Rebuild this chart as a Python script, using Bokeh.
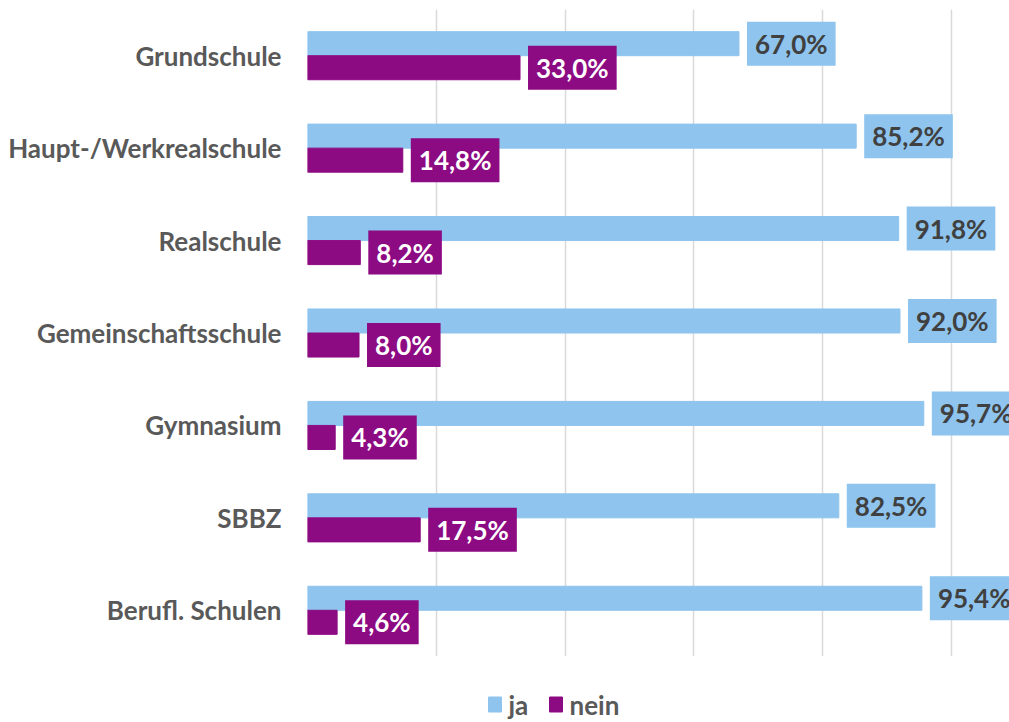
from bokeh.plotting import figure
from bokeh.layouts import column
from bokeh.models import ColumnDataSource, FactorRange, Range1d, FixedTicker, Grid
from bokeh.transform import dodge
from bokeh.core.properties import value
from bokeh.embed import file_html
from bokeh.resources import INLINE

categories = ["Grundschule", "Haupt-/Werkrealschule", "Realschule", "Gemeinschaftsschule",
              "Gymnasium", "SBBZ", "Berufl. Schulen"]
ja = [67.0, 85.2, 91.8, 92.0, 95.7, 82.5, 95.4]
nein = [33.0, 14.8, 8.2, 8.0, 4.3, 17.5, 4.6]
series = ["ja", "nein"]
grid_ticks = [0, 20, 40, 60, 80, 100]

BLUE = "#8EC4ED"
PURPLE = "#8C0A82"
FONT = "Lato"

def fmt(v):
    return f"{v:.1f}".replace(".", ",") + "%"

src = ColumnDataSource(dict(
    cat=categories, v_ja=ja, v_nein=nein,
    ja_lbl=[fmt(v) for v in ja], nein_lbl=[fmt(v) for v in nein],
))

LEFT = 307
FW = 702
p = figure(y_range=FactorRange(*categories[::-1]), x_range=Range1d(0, FW / 6.44),
           frame_width=FW, frame_height=647, min_border_left=LEFT, min_border_right=0,
           min_border_top=9, min_border_bottom=0, x_axis_location=None,
           output_backend="svg", toolbar_location=None)

p.outline_line_color = None
p.ygrid.grid_line_color = None
p.add_layout(Grid(dimension=0, ticker=FixedTicker(ticks=grid_ticks),
                  grid_line_color="#D9D9D9", grid_line_width=1.5))

p.yaxis.axis_line_color = None
p.yaxis.major_tick_line_color = None
p.yaxis.minor_tick_line_color = None
p.yaxis.major_label_text_font = FONT
p.yaxis.major_label_text_font_style = "bold"
p.yaxis.major_label_text_font_size = "26px"
p.yaxis.major_label_text_color = "#595959"
p.yaxis.major_label_standoff = 20

yja = dodge("cat", 0.13, range=p.y_range)
ynein = dodge("cat", -0.13, range=p.y_range)

r1 = p.hbar(y=yja, left=0, right="v_ja", height=0.26, source=src,
            fill_color=BLUE, line_color=BLUE)
r2 = p.hbar(y=ynein, left=0, right="v_nein", height=0.26, source=src,
            fill_color=PURPLE, line_color=PURPLE)

pad = dict(left=8, right=8, top=6, bottom=6)
p.text(x="v_ja", y=yja, text="ja_lbl", source=src, x_offset=8,
       text_align="left", text_baseline="middle", text_font=value(FONT),
       text_font_style="bold", text_font_size="26px", text_color="#404040",
       background_fill_color=BLUE, padding=pad)
p.text(x="v_nein", y=ynein, text="nein_lbl", source=src, x_offset=8,
       text_align="left", text_baseline="middle", text_font=value(FONT),
       text_font_style="bold", text_font_size="26px", text_color="white",
       background_fill_color=PURPLE, padding=pad)

# legend strip below the plot (x in page pixels, frame aligned with main plot)
LH = 64
lg = figure(x_range=Range1d(LEFT, LEFT + FW), y_range=Range1d(0, LH),
            frame_width=FW, frame_height=LH, min_border_left=LEFT, min_border_right=0,
            min_border_top=0, min_border_bottom=0,
            x_axis_location=None, y_axis_location=None,
            output_backend="svg", toolbar_location=None)
lg.outline_line_color = None
lg.xgrid.visible = False
lg.ygrid.visible = False
leg_src = ColumnDataSource(dict(
    label=series, color=[BLUE, PURPLE],
    sx=[494.5, 555.5], tx=[508, 569], y=[16, 16],
))
lg.rect(x="sx", y="y", width=13, height=15, source=leg_src,
        fill_color="color", line_color="color")
lg.text(x="tx", y="y", text="label", source=leg_src, text_align="left",
        text_baseline="middle", text_font=value(FONT), text_font_style="bold",
        text_font_size="26px", text_color="#595959")

layout = column(p, lg, spacing=0)
open("out.html", "w").write(file_html(layout, INLINE))
